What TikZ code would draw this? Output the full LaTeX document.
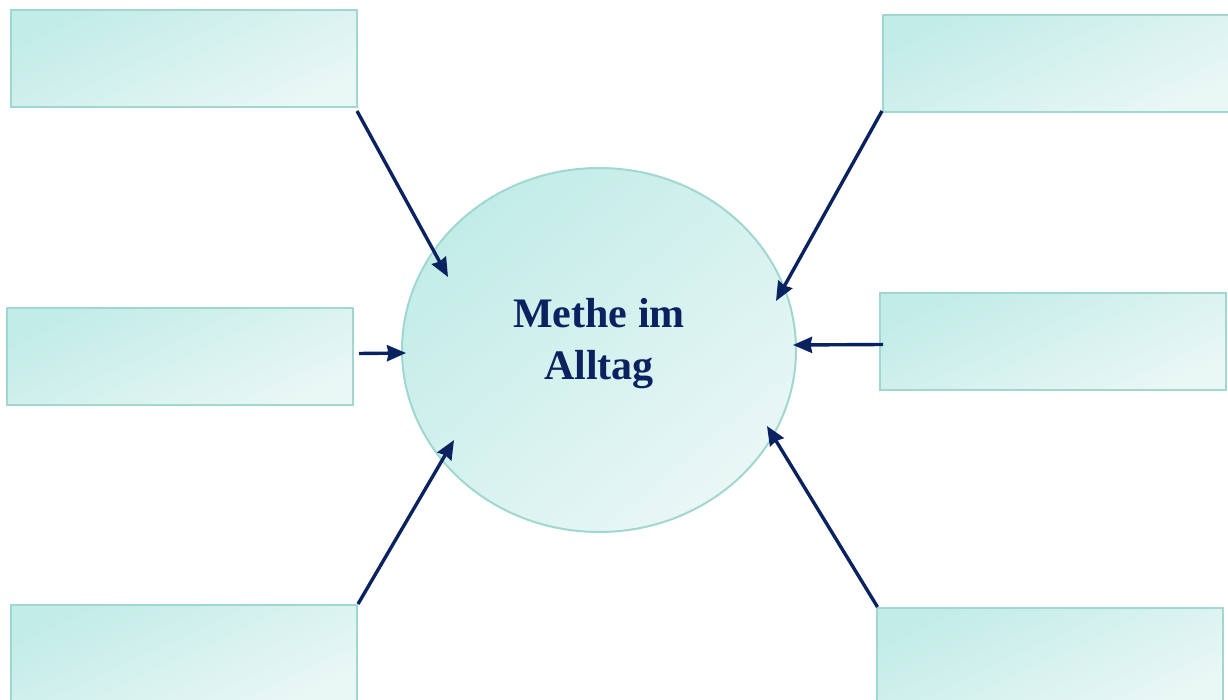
\documentclass[tikz,border=0pt]{standalone}
\usepackage{fontspec}
\setmainfont{Liberation Serif}
\usetikzlibrary{arrows.meta,shapes.geometric}
\definecolor{rim}{HTML}{A0D7D0}
\definecolor{mintdark}{HTML}{C2ECE8}
\definecolor{mintlight}{HTML}{E9F7F5}
\definecolor{navy}{HTML}{0A2260}
\begin{document}
\begin{tikzpicture}[x=1pt, y=-1pt,
    card/.style = {draw = rim, line width = 2pt, top color = mintdark, bottom color = mintlight,
                   shading angle = 25, minimum width = 346pt, minimum height = 97pt, inner sep = 0pt},
    hub/.style  = {ellipse, draw = rim, line width = 2pt, top color = mintdark, bottom color = mintlight,
                   shading angle = 40, minimum width = 394pt, minimum height = 364pt, inner sep = 0pt},
    title/.style = {align = center, text = navy, font = \bfseries\fontsize{42}{52}\selectfont},
    arr/.style  = {draw = navy, line width = 3.4pt, -{Stealth[length = 19pt, width = 16pt, inset = 1.5pt]}}]
    \useasboundingbox (0, 0) rectangle (1228, 700);

    \node[hub] (methe) at (599, 350) {};
    \node[title] (label) at (599, 344) {Methe im\\Alltag};

    \node[card] (tl) at (184, 58.5) {};
    \node[card] (tr) at (1056, 63.5) {};
    \node[card] (ml) at (180, 356.5) {};
    \node[card] (mr) at (1053, 341.5) {};
    \node[card] (bl) at (184, 653.5) {};
    \node[card] (br) at (1049.5, 656.5) {};

    % arrow ends inside the ellipse
    \coordinate (inTL) at (448, 277);
    \coordinate (inTR) at (776, 301);
    \coordinate (inML) at (406, 353);
    \coordinate (inMR) at (793, 345);
    \coordinate (inBL) at (454, 440);
    \coordinate (inBR) at (767, 426);

    \draw[arr] ([shift = {(-1, 3)}]tl.south east) -- (inTL);
    \draw[arr] ([shift = {(0, -2)}]tr.south west) -- (inTR);
    \draw[arr] ([shift = {(5, -3)}]ml.east) -- (inML);
    \draw[arr] ([shift = {(4, 3)}]mr.west) -- (inMR);
    \draw[arr] (bl.north east) -- (inBL);
    \draw[arr] ([shift = {(2, 0)}]br.north west) -- (inBR);
\end{tikzpicture}
\end{document}
